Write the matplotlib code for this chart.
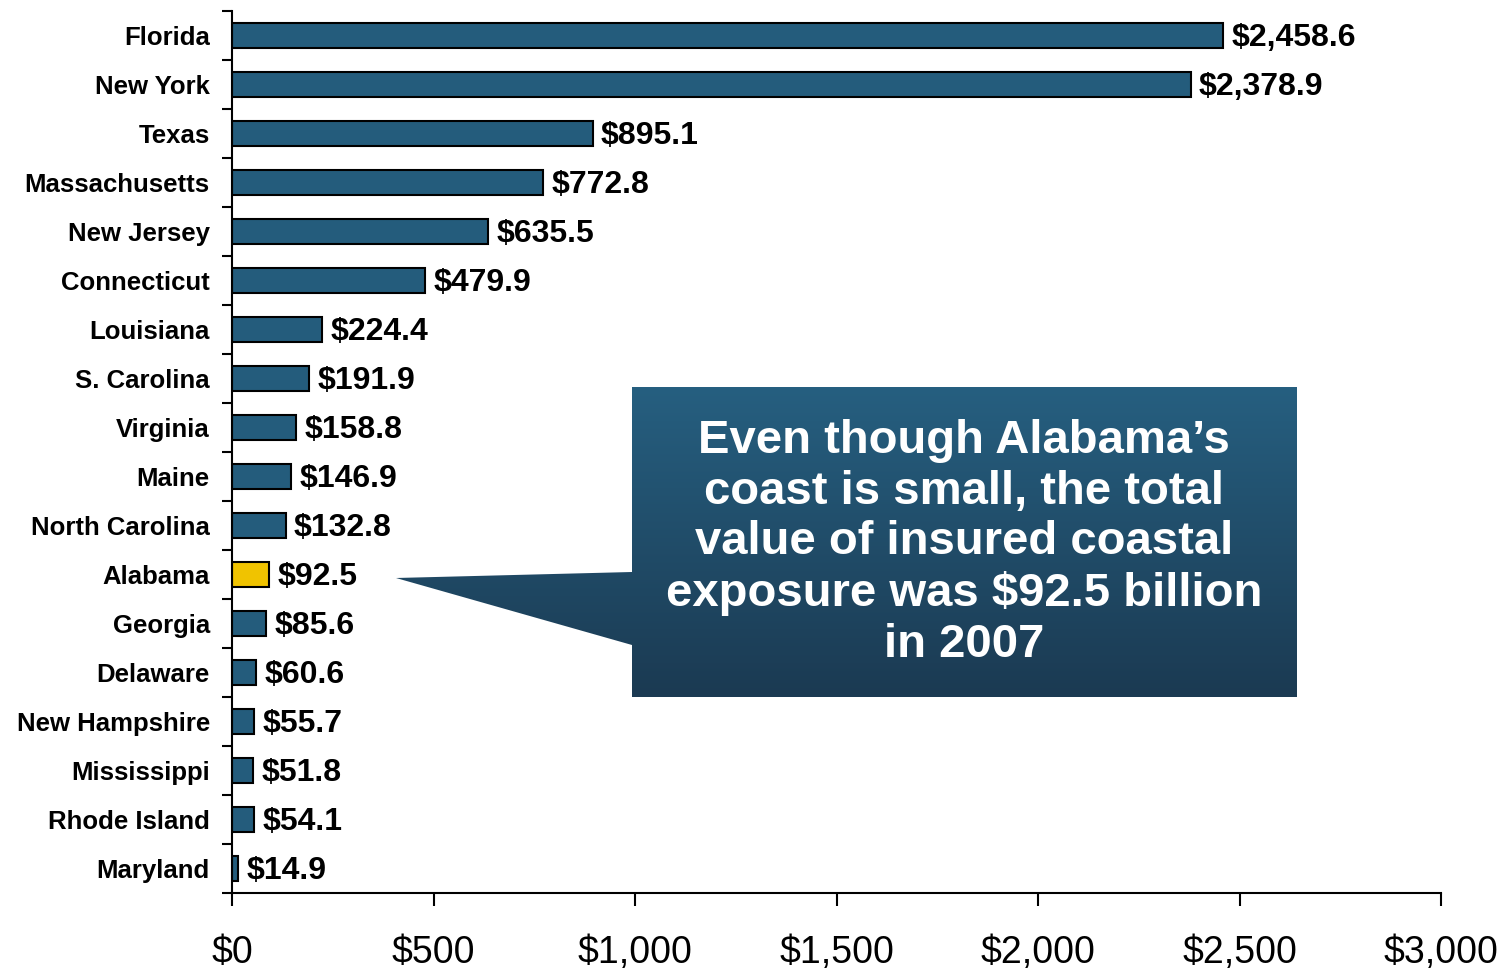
import matplotlib
matplotlib.use("Agg")
import matplotlib.pyplot as plt
import numpy as np
from matplotlib.patches import Polygon
from matplotlib.colors import LinearSegmentedColormap

plt.rcParams['font.family'] = ['Liberation Sans', 'DejaVu Sans']

states = ['Florida', 'New York', 'Texas', 'Massachusetts', 'New Jersey', 'Connecticut',
          'Louisiana', 'S. Carolina', 'Virginia', 'Maine', 'North Carolina', 'Alabama',
          'Georgia', 'Delaware', 'New Hampshire', 'Mississippi', 'Rhode Island', 'Maryland']
values = [2458.6, 2378.9, 895.1, 772.8, 635.5, 479.9, 224.4, 191.9, 158.8, 146.9,
          132.8, 92.5, 85.6, 60.6, 55.7, 51.8, 54.1, 14.9]
highlight = 'Alabama'
x_ticks = [0, 500, 1000, 1500, 2000, 2500, 3000]
callout = "Even though Alabama\u2019s\ncoast is small, the total\nvalue of insured coastal\nexposure was $92.5 billion\nin 2007"

W, H = 1503, 968
fig = plt.figure(figsize=(W / 100, H / 100), dpi=100)
ax = fig.add_axes([232 / W, 1 - 893 / H, (1441 - 232) / W, (893 - 11) / H])

y = np.arange(len(states))
colors = ['#F0C300' if s == highlight else '#245C7C' for s in states]
ax.barh(y, values, height=0.5, color=colors, edgecolor='black', linewidth=1.5)
for yi, v in zip(y, values):
    ax.annotate(f'${v:,.1f}', (v, yi), xytext=(6, -2), textcoords='offset points',
                va='center', ha='left', fontsize=23, fontweight='bold')

ax.set_ylim(len(states) - 0.5, -0.5)
ax.set_xlim(0, 3000)
ax.set_yticks(y)
ax.set_yticklabels(states, fontsize=18.5, fontweight='bold')
ax.set_yticks(np.arange(len(states) + 1) - 0.5, minor=True)
ax.tick_params(axis='y', which='major', length=0, pad=16)
ax.tick_params(axis='y', which='minor', length=7, width=1.5)
ax.set_xticks(x_ticks)
ax.set_xticklabels([f'${t:,}' for t in x_ticks], fontsize=27)
ax.tick_params(axis='x', length=9, width=1.5, pad=21)
for s in ['top', 'right']:
    ax.spines[s].set_visible(False)
for s in ['left', 'bottom']:
    ax.spines[s].set_linewidth(1.5)

# callout overlay in pixel coordinates
ov = fig.add_axes([0, 0, 1, 1], zorder=5)
ov.set_xlim(0, W)
ov.set_ylim(H, 0)
ov.axis('off')
shape = Polygon([(632, 387), (1297, 387), (1297, 697), (632, 697), (632, 645),
                 (396, 578), (632, 572)], closed=True, facecolor='none', edgecolor='none')
ov.add_patch(shape)
cmap = LinearSegmentedColormap.from_list('cb', ['#265F80', '#1B3A52'])
grad = np.linspace(0, 1, 256).reshape(-1, 1)
im = ov.imshow(grad, cmap=cmap, aspect='auto', extent=(396, 1297, 697, 387), origin='upper')
im.set_clip_path(shape)
ov.set_xlim(0, W)
ov.set_ylim(H, 0)
ov.text(964, 543, callout, color='white', fontsize=34, fontweight='bold',
        ha='center', va='center', linespacing=1.19)

fig.savefig('out.png', dpi=100)
